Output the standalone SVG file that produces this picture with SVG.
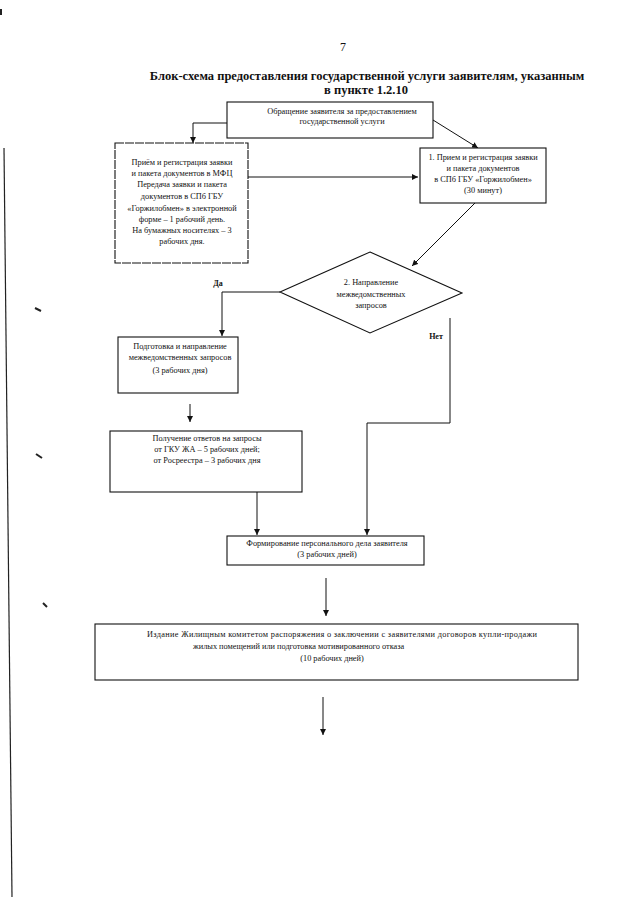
<svg xmlns="http://www.w3.org/2000/svg" width="640" height="905" viewBox="0 0 640 905">
<style>
text{font-family:"Liberation Serif","Times New Roman",serif;fill:#111}
.t{font-size:8.3px;text-anchor:middle}
.b{font-weight:bold}
.box{fill:#fff;stroke:#111;stroke-width:1.1}
.ln{fill:none;stroke:#111;stroke-width:1}
</style>
<defs>
<marker id="ah" viewBox="0 0 10 10" refX="10" refY="5" markerWidth="6" markerHeight="6" markerUnits="userSpaceOnUse" orient="auto">
<path d="M0,0 L10,5 L0,10 z" fill="#111"/>
</marker>
</defs>
<rect width="640" height="905" fill="#fff"/>
<g id="artifacts">
<line x1="4" y1="148" x2="12" y2="897" stroke="#222" stroke-width="1.2"/>
<rect x="0" y="9" width="2" height="6" fill="#222"/>
<line x1="35" y1="308" x2="41" y2="311" stroke="#222" stroke-width="2"/>
<line x1="36" y1="454" x2="42" y2="458" stroke="#222" stroke-width="2"/>
<line x1="43" y1="603" x2="47" y2="607" stroke="#222" stroke-width="2"/>
</g>
<g id="header">
<text x="343" y="51" style="font-size:12px;text-anchor:middle">7</text>
<text x="367" y="80" class="b" style="font-size:12.5px;text-anchor:middle">Блок-схема предоставления государственной услуги заявителям, указанным</text>
<text x="366" y="94" class="b" style="font-size:12.5px;text-anchor:middle">в пункте 1.2.10</text>
</g>
<g id="connectors">
<polyline class="ln" points="227,123 193,123 193,143" marker-end="url(#ah)"/>
<line class="ln" x1="433" y1="120" x2="478" y2="148" marker-end="url(#ah)"/>
<line class="ln" x1="248" y1="177" x2="418" y2="177" marker-end="url(#ah)"/>
<line class="ln" x1="475" y1="203" x2="412" y2="266" marker-end="url(#ah)"/>
<polyline class="ln" points="280,292 222,292 222,336" marker-end="url(#ah)"/>
<line class="ln" x1="190" y1="404" x2="190" y2="422" marker-end="url(#ah)"/>
<line class="ln" x1="257" y1="492" x2="257" y2="535" marker-end="url(#ah)"/>
<polyline class="ln" points="450,318 450,423 367,423 367,535" marker-end="url(#ah)"/>
<line class="ln" x1="326" y1="578" x2="326" y2="616" marker-end="url(#ah)"/>
<line class="ln" x1="323" y1="697" x2="323" y2="735" marker-end="url(#ah)"/>
<text x="218" y="286" class="b" style="font-size:8px;text-anchor:middle">Да</text>
<text x="436" y="339" class="b" style="font-size:8px;text-anchor:middle">Нет</text>
</g>
<g id="n-start">
<rect class="box" x="227" y="102" width="206" height="36"/>
<text class="t" x="342" y="114">Обращение заявителя за предоставлением</text>
<text class="t" x="342" y="124">государственной услуги</text>
</g>
<g id="n-mfc">
<rect class="box" x="115" y="143" width="133" height="120" stroke-dasharray="9 1"/>
<text class="t" x="182" y="165">Приём и регистрация заявки</text>
<text class="t" x="182" y="176">и пакета документов в МФЦ</text>
<text class="t" x="182" y="187">Передача заявки и пакета</text>
<text class="t" x="182" y="199">документов в СПб ГБУ</text>
<text class="t" x="182" y="211">«Горжилобмен» в электронной</text>
<text class="t" x="182" y="222">форме – 1 рабочий день.</text>
<text class="t" x="182" y="233">На бумажных носителях – 3</text>
<text class="t" x="182" y="244">рабочих дня.</text>
</g>
<g id="n-reg">
<rect class="box" x="420" y="148" width="126" height="55"/>
<text class="t" x="483" y="160">1. Прием и регистрация заявки</text>
<text class="t" x="483" y="171">и пакета документов</text>
<text class="t" x="483" y="182">в СПб ГБУ «Горжилобмен»</text>
<text class="t" x="483" y="193">(30 минут)</text>
</g>
<g id="n-decision">
<polygon class="box" points="370,252 462,293 370,333 280,292"/>
<text class="t" x="371" y="285">2. Направление</text>
<text class="t" x="371" y="297">межведомственных</text>
<text class="t" x="371" y="308">запросов</text>
</g>
<g id="n-prep">
<rect class="box" x="118" y="337" width="120" height="56"/>
<text class="t" x="180" y="349">Подготовка и направление</text>
<text class="t" x="180" y="360">межведомственных запросов</text>
<text class="t" x="180" y="373">(3 рабочих дня)</text>
</g>
<g id="n-answers">
<rect class="box" x="110" y="431" width="192" height="61"/>
<text class="t" x="207" y="441">Получение ответов на запросы</text>
<text class="t" x="207" y="452">от ГКУ ЖА – 5 рабочих дней;</text>
<text class="t" x="207" y="463">от Росреестра – 3 рабочих дня</text>
</g>
<g id="n-file">
<rect class="box" x="227" y="536" width="197" height="29"/>
<text class="t" x="327" y="546">Формирование персонального дела заявителя</text>
<text class="t" x="327" y="557">(3 рабочих дней)</text>
</g>
<g id="n-order">
<rect class="box" x="95" y="624" width="483" height="56"/>
<text style="font-size:8.3px" x="147" y="637" textLength="390" lengthAdjust="spacing">Издание Жилищным комитетом распоряжения о заключении с заявителями договоров купли-продажи</text>
<text style="font-size:8.3px" x="193" y="649">жилых помещений или подготовка мотивированного отказа</text>
<text class="t" x="332" y="661">(10 рабочих дней)</text>
</g>
</svg>
